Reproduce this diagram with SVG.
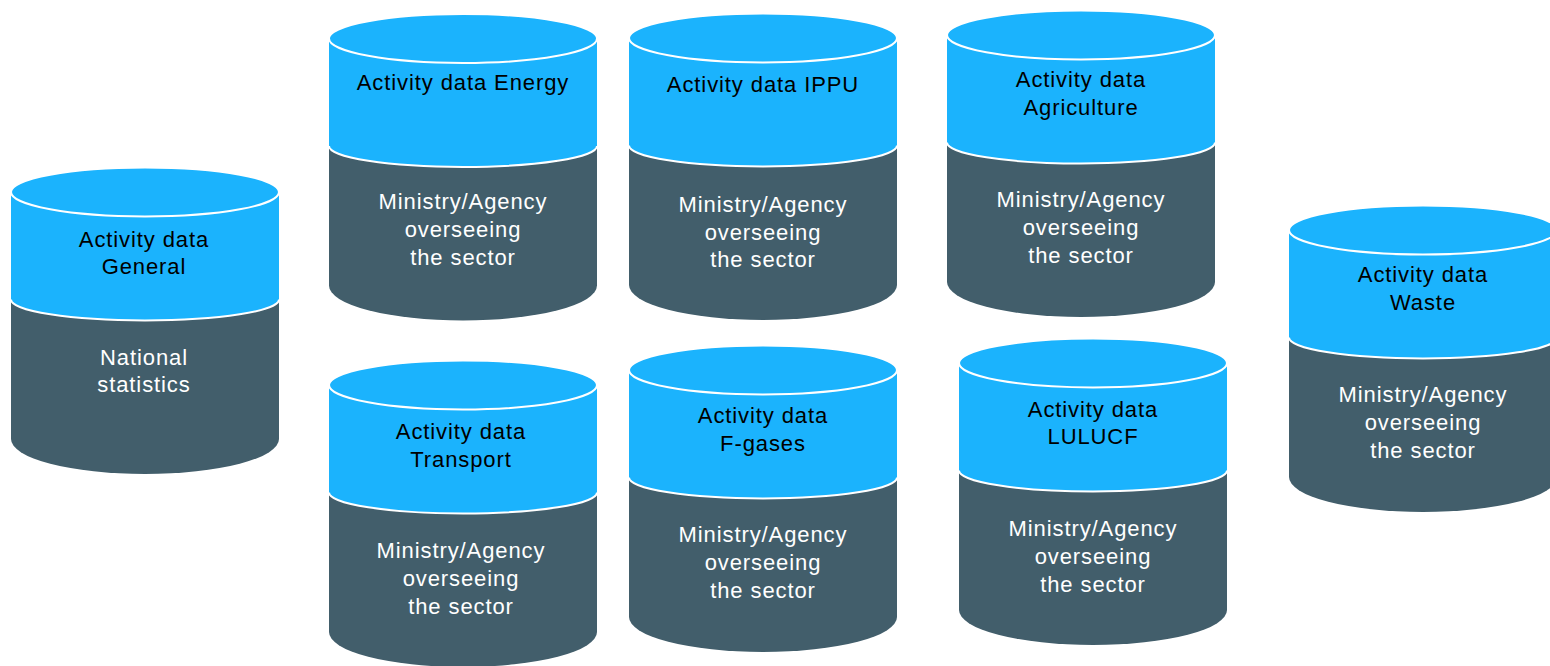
<svg xmlns="http://www.w3.org/2000/svg" xmlns:xlink="http://www.w3.org/1999/xlink" width="1550" height="666" viewBox="0 0 1550 666">
<style>
.tb{font-family:"Liberation Sans",Arial,sans-serif;font-size:22px;fill:#000;text-anchor:middle;letter-spacing:0.9px}
.tw{font-family:"Liberation Sans",Arial,sans-serif;font-size:22px;fill:#fff;text-anchor:middle;letter-spacing:0.9px}
.blue{fill:#1BB3FD}
.dark{fill:#425E6B}
.edge{fill:none;stroke:#fff;stroke-width:2}
</style>
<defs>
<g id="cyl">
<path class="dark" d="M0,107.5 L0,247 A134,35 0 0 0 268,247 L268,107.5 Z"/>
<path class="blue" d="M0,0 L0,107.5 A134,21 0 0 0 268,107.5 L268,0 Z"/>
<path class="edge" d="M0,107.5 A134,21 0 0 0 268,107.5"/>
<ellipse class="blue" cx="134" cy="0" rx="134" ry="24.5" stroke="#fff" stroke-width="2"/>
</g>
</defs>
<rect width="1550" height="666" fill="#fff"/>
<g id="general">
<use xlink:href="#cyl" transform="translate(11,192)"/>
<text class="tb" x="144" y="247">Activity data</text>
<text class="tb" x="144" y="274">General</text>
<text class="tw" x="144" y="365">National</text>
<text class="tw" x="144" y="392">statistics</text>
</g>
<g id="energy">
<use xlink:href="#cyl" transform="translate(329,38.5)"/>
<text class="tb" x="463" y="90">Activity data Energy</text>
<text class="tw" x="463" y="209">Ministry/Agency</text>
<text class="tw" x="463" y="237">overseeing</text>
<text class="tw" x="463" y="265">the sector</text>
</g>
<g id="ippu">
<use xlink:href="#cyl" transform="translate(629,38)"/>
<text class="tb" x="763" y="92">Activity data IPPU</text>
<text class="tw" x="763" y="212">Ministry/Agency</text>
<text class="tw" x="763" y="240">overseeing</text>
<text class="tw" x="763" y="267">the sector</text>
</g>
<g id="agriculture">
<use xlink:href="#cyl" transform="translate(947,35)"/>
<text class="tb" x="1081" y="87">Activity data</text>
<text class="tb" x="1081" y="115">Agriculture</text>
<text class="tw" x="1081" y="207">Ministry/Agency</text>
<text class="tw" x="1081" y="235">overseeing</text>
<text class="tw" x="1081" y="263">the sector</text>
</g>
<g id="waste">
<use xlink:href="#cyl" transform="translate(1289,230)"/>
<text class="tb" x="1423" y="282">Activity data</text>
<text class="tb" x="1423" y="310">Waste</text>
<text class="tw" x="1423" y="402">Ministry/Agency</text>
<text class="tw" x="1423" y="430">overseeing</text>
<text class="tw" x="1423" y="458">the sector</text>
</g>
<g id="transport">
<use xlink:href="#cyl" transform="translate(329,385)"/>
<text class="tb" x="461" y="439">Activity data</text>
<text class="tb" x="461" y="467">Transport</text>
<text class="tw" x="461" y="558">Ministry/Agency</text>
<text class="tw" x="461" y="586">overseeing</text>
<text class="tw" x="461" y="614">the sector</text>
</g>
<g id="fgases">
<use xlink:href="#cyl" transform="translate(629,370)"/>
<text class="tb" x="763" y="423">Activity data</text>
<text class="tb" x="763" y="451">F-gases</text>
<text class="tw" x="763" y="542">Ministry/Agency</text>
<text class="tw" x="763" y="570">overseeing</text>
<text class="tw" x="763" y="598">the sector</text>
</g>
<g id="lulucf">
<use xlink:href="#cyl" transform="translate(959,363)"/>
<text class="tb" x="1093" y="417">Activity data</text>
<text class="tb" x="1093" y="444">LULUCF</text>
<text class="tw" x="1093" y="536">Ministry/Agency</text>
<text class="tw" x="1093" y="564">overseeing</text>
<text class="tw" x="1093" y="592">the sector</text>
</g>
<g id="connectors"/>
</svg>
